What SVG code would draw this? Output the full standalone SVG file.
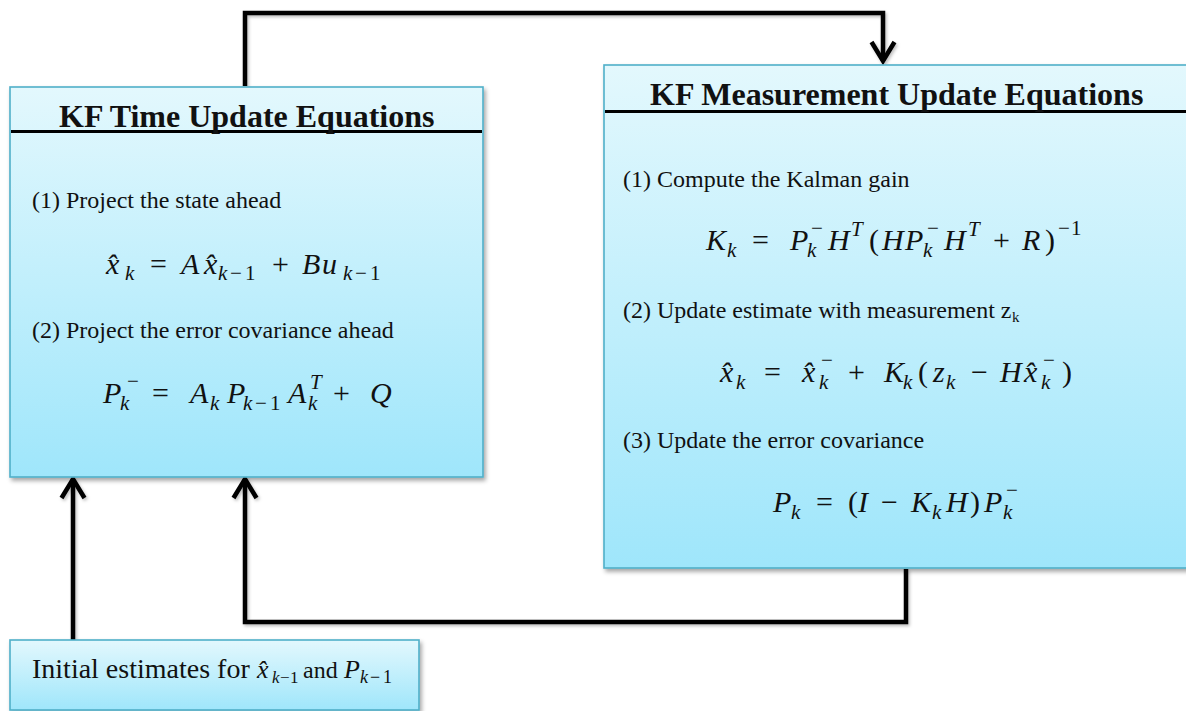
<svg xmlns="http://www.w3.org/2000/svg" width="1186" height="711" viewBox="0 0 1186 711">
<defs>
<linearGradient id="bg" x1="0" y1="0" x2="0" y2="1">
<stop offset="0" stop-color="#e3f8fd"/>
<stop offset="1" stop-color="#9fe6fb"/>
</linearGradient>
<filter id="sh" x="-5%" y="-5%" width="115%" height="115%">
<feDropShadow dx="2" dy="3" stdDeviation="2" flood-color="#000" flood-opacity="0.35"/>
</filter>
<filter id="lsh" filterUnits="userSpaceOnUse" x="0" y="0" width="1186" height="711">
<feDropShadow dx="1.5" dy="2" stdDeviation="1.5" flood-color="#000" flood-opacity="0.25"/>
</filter>
<marker id="arr" markerUnits="userSpaceOnUse" markerWidth="40" markerHeight="40" refX="0" refY="0" orient="auto" overflow="visible">
<path d="M-19,-11.5 L0,0 L-19,11.5" fill="none" stroke="#000" stroke-width="4.5" stroke-linejoin="miter"/>
</marker>
<style>
.box{fill:url(#bg);stroke:#4fb0c9;stroke-width:1.6;filter:url(#sh)}
.rule{stroke:#000;stroke-width:3}
.title{font-family:"Liberation Serif",serif;font-weight:bold;font-size:32px;fill:#111}
.lbl{font-family:"Liberation Serif",serif;font-size:24px;fill:#111}
.m{font-family:"Liberation Serif",serif;font-style:italic;font-size:30px;fill:#111}
.o{font-style:normal}
.s{font-size:21px}
.conn{fill:none;stroke:#000;stroke-width:4.5;stroke-linejoin:miter;stroke-linecap:butt;filter:url(#lsh)}
</style>
</defs>

<g id="connectors">
<path class="conn" d="M245,86 V13 H883 V61" marker-end="url(#arr)"/>
<path class="conn" d="M906,569 V622 H245 V479" marker-end="url(#arr)"/>
<path class="conn" d="M73,640 V479" marker-end="url(#arr)"/>
</g>

<g id="time-update">
<rect class="box" x="10" y="87" width="473" height="390"/>
<line class="rule" x1="11" y1="131.5" x2="482" y2="131.5"/>
<text class="title" x="59" y="127">KF Time Update Equations</text>
<text class="lbl" x="32" y="208">(1) Project the state ahead</text>
<text class="m" y="274"><tspan x="106">x&#x302;</tspan><tspan class="s" x="125" y="280">k</tspan><tspan class="o" x="150" y="274">=</tspan><tspan x="181">A</tspan><tspan x="204">x&#x302;</tspan><tspan class="s" x="218" y="280">k</tspan><tspan class="s o" x="230 245" y="280">−1</tspan><tspan class="o" x="272" y="274">+</tspan><tspan x="302">B</tspan><tspan x="322">u</tspan><tspan class="s" x="343" y="280">k</tspan><tspan class="s o" x="355 370" y="280">−1</tspan></text>
<text class="lbl" x="32" y="338">(2) Project the error covariance ahead</text>
<text class="m" y="403"><tspan x="103">P</tspan><tspan class="s" x="120" y="410">k</tspan><tspan class="s o" x="127" y="388">−</tspan><tspan class="o" x="152" y="403">=</tspan><tspan x="190">A</tspan><tspan class="s" x="210" y="410">k</tspan><tspan x="227" y="403">P</tspan><tspan class="s" x="243" y="410">k</tspan><tspan class="s o" x="255 270" y="410">−1</tspan><tspan x="288" y="403">A</tspan><tspan class="s" x="310" y="389">T</tspan><tspan class="s" x="308" y="410">k</tspan><tspan class="o" x="333" y="403">+</tspan><tspan x="370">Q</tspan></text>
</g>

<g id="measurement-update">
<rect class="box" x="604" y="65" width="600" height="503"/>
<line class="rule" x1="605" y1="111.5" x2="1186" y2="111.5"/>
<text class="title" x="650" y="105">KF Measurement Update Equations</text>
<text class="lbl" x="623" y="187">(1) Compute the Kalman gain</text>
<text class="m" y="250"><tspan x="706">K</tspan><tspan class="s" x="727" y="257">k</tspan><tspan class="o" x="752" y="250">=</tspan><tspan x="790">P</tspan><tspan class="s" x="807" y="257">k</tspan><tspan class="s o" x="811" y="235">−</tspan><tspan x="828" y="250">H</tspan><tspan class="s" x="851" y="236">T</tspan><tspan class="o" x="869" y="250">(</tspan><tspan x="882">H</tspan><tspan x="905">P</tspan><tspan class="s" x="923" y="257">k</tspan><tspan class="s o" x="927" y="235">−</tspan><tspan x="944" y="250">H</tspan><tspan class="s" x="968" y="236">T</tspan><tspan class="o" x="993" y="250">+</tspan><tspan x="1022">R</tspan><tspan class="o" x="1045">)</tspan><tspan class="s o" x="1058 1071" y="235">−1</tspan></text>
<text class="lbl" x="623" y="318">(2) Update estimate with measurement z<tspan style="font-size:15px" x="1012" y="322">k</tspan></text>
<text class="m" y="382"><tspan x="720">x&#x302;</tspan><tspan class="s" x="736" y="389">k</tspan><tspan class="o" x="764" y="382">=</tspan><tspan x="802">x&#x302;</tspan><tspan class="s" x="819" y="389">k</tspan><tspan class="s o" x="821" y="367">−</tspan><tspan class="o" x="848" y="382">+</tspan><tspan x="884">K</tspan><tspan class="s" x="903" y="389">k</tspan><tspan class="o" x="918" y="382">(</tspan><tspan x="933">z</tspan><tspan class="s" x="946" y="389">k</tspan><tspan class="o" x="971" y="382">−</tspan><tspan x="1000">H</tspan><tspan x="1024">x&#x302;</tspan><tspan class="s" x="1041" y="389">k</tspan><tspan class="s o" x="1043" y="367">−</tspan><tspan class="o" x="1062" y="382">)</tspan></text>
<text class="lbl" x="623" y="448">(3) Update the error covariance</text>
<text class="m" y="512"><tspan x="773">P</tspan><tspan class="s" x="791" y="519">k</tspan><tspan class="o" x="816" y="512">=</tspan><tspan class="o" x="848">(</tspan><tspan x="858">I</tspan><tspan class="o" x="881">−</tspan><tspan x="911">K</tspan><tspan class="s" x="932" y="519">k</tspan><tspan x="946" y="512">H</tspan><tspan class="o" x="970">)</tspan><tspan x="984">P</tspan><tspan class="s" x="1003" y="519">k</tspan><tspan class="s o" x="1006" y="497">−</tspan></text>
</g>

<g id="initial-estimates">
<rect class="box" x="10" y="640" width="409" height="70"/>
<text class="lbl" style="font-size:28px" x="32" y="678">Initial estimates for</text>
<text class="m" style="font-size:26px" y="678"><tspan x="257">x&#x302;</tspan><tspan style="font-size:17px" x="272" y="683">k</tspan><tspan class="o" style="font-size:17px" x="280 290" y="683">−1</tspan><tspan class="o" style="font-size:24px" x="303" y="678">and</tspan><tspan x="344">P</tspan><tspan style="font-size:18px" x="360" y="683">k</tspan><tspan class="o" style="font-size:18px" x="370 383" y="683">−1</tspan></text>
</g>
</svg>
